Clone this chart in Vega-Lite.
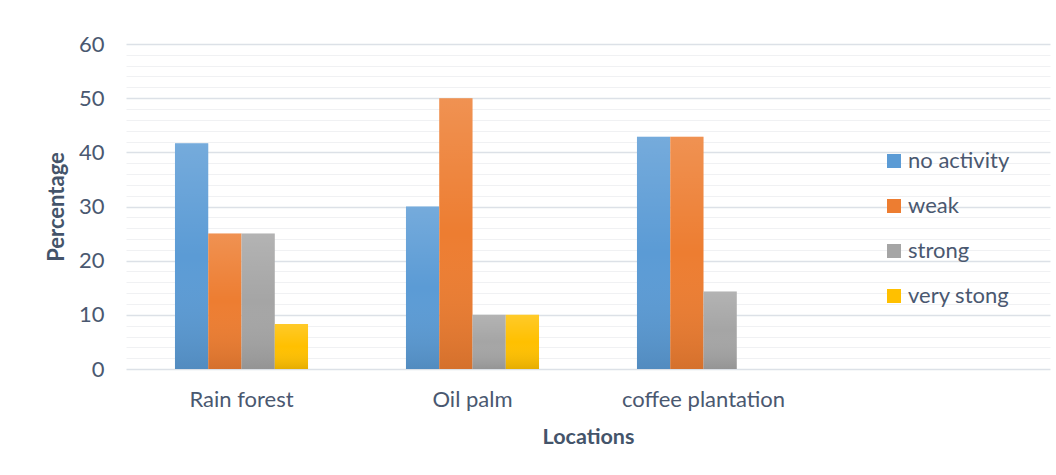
{
  "$schema": "https://vega.github.io/schema/vega-lite/v6.json",
  "autosize": "none",
  "width": 924,
  "height": 325,
  "padding": {"left": 126, "top": 44, "right": 6, "bottom": 106},
  "background": "white",
  "config": {
    "view": {"stroke": null},
    "font": "Lato",
    "axis": {"labelFont": "Lato", "titleFont": "Lato", "labelColor": "#4a5870", "titleColor": "#44546a"},
    "legend": {"labelFont": "Lato"}
  },
  "data": {
    "values": [
      {"location": "Rain forest", "activity": "no activity", "pct": 41.67},
      {"location": "Rain forest", "activity": "weak", "pct": 25},
      {"location": "Rain forest", "activity": "strong", "pct": 25},
      {"location": "Rain forest", "activity": "very stong", "pct": 8.33},
      {"location": "Oil palm", "activity": "no activity", "pct": 30},
      {"location": "Oil palm", "activity": "weak", "pct": 50},
      {"location": "Oil palm", "activity": "strong", "pct": 10},
      {"location": "Oil palm", "activity": "very stong", "pct": 10},
      {"location": "coffee plantation", "activity": "no activity", "pct": 42.86},
      {"location": "coffee plantation", "activity": "weak", "pct": 42.86},
      {"location": "coffee plantation", "activity": "strong", "pct": 14.29},
      {"location": "coffee plantation", "activity": "very stong", "pct": 0}
    ]
  },
  "encoding": {
    "x": {
      "field": "location",
      "type": "nominal",
      "sort": null,
      "scale": {"domain": ["Rain forest", "Oil palm", "coffee plantation", "blank"], "paddingInner": 0.424, "paddingOuter": 0.212},
      "axis": {
        "title": "Locations",
        "titleFontSize": 21.5,
        "titleFontWeight": "bold",
        "titlePadding": 16,
        "labelFontSize": 22,
        "labelAngle": 0,
        "labelPadding": 20,
        "labelExpr": "datum.value === 'blank' ? '' : datum.label",
        "domain": false,
        "ticks": false
      }
    },
    "xOffset": {
      "field": "activity",
      "type": "nominal",
      "sort": ["no activity", "weak", "strong", "very stong"],
      "scale": {"paddingInner": 0, "paddingOuter": 0}
    },
    "y": {
      "field": "pct",
      "type": "quantitative",
      "scale": {"domain": [0, 60], "nice": false},
      "axis": {
        "title": "Percentage",
        "titleFontSize": 22,
        "titleFontWeight": "bold",
        "titlePadding": 10,
        "labelFontSize": 22,
        "labelPadding": 22,
        "values": [0, 2, 4, 6, 8, 10, 12, 14, 16, 18, 20, 22, 24, 26, 28, 30, 32, 34, 36, 38, 40, 42, 44, 46, 48, 50, 52, 54, 56, 58, 60],
        "labelExpr": "datum.value % 10 === 0 ? datum.label : ''",
        "domain": false,
        "ticks": false,
        "grid": true,
        "gridColor": {"condition": {"test": "datum.value % 10 === 0", "value": "#dce1e7"}, "value": "#f0f1f3"},
        "gridWidth": {"condition": {"test": "datum.value % 10 === 0", "value": 1.6}, "value": 1}
      }
    }
  },
  "layer": [
    {
      "mark": {"type": "bar"},
      "encoding": {
        "color": {
          "field": "activity",
          "type": "nominal",
          "sort": ["no activity", "weak", "strong", "very stong"],
          "scale": {"domain": ["no activity", "weak", "strong", "very stong"], "range": ["#5b9bd5", "#ed7d31", "#a5a5a5", "#ffc000"]},
          "legend": {
            "title": null,
            "orient": "none",
            "legendX": 757,
            "legendY": 106,
            "symbolType": "square",
            "symbolSize": 196,
            "symbolStrokeWidth": 0,
            "symbolOpacity": 1,
            "labelFontSize": 22,
            "labelColor": "#4a5870",
            "labelOffset": 3,
            "rowPadding": 23
          }
        }
      }
    },
    {
      "mark": {
        "type": "bar",
        "fill": {
          "gradient": "linear",
          "x1": 0, "y1": 0, "x2": 0, "y2": 1,
          "stops": [
            {"offset": 0, "color": "rgba(255,255,255,0.16)"},
            {"offset": 0.5, "color": "rgba(255,255,255,0)"},
            {"offset": 1, "color": "rgba(0,0,0,0.1)"}
          ]
        }
      }
    }
  ]
}
